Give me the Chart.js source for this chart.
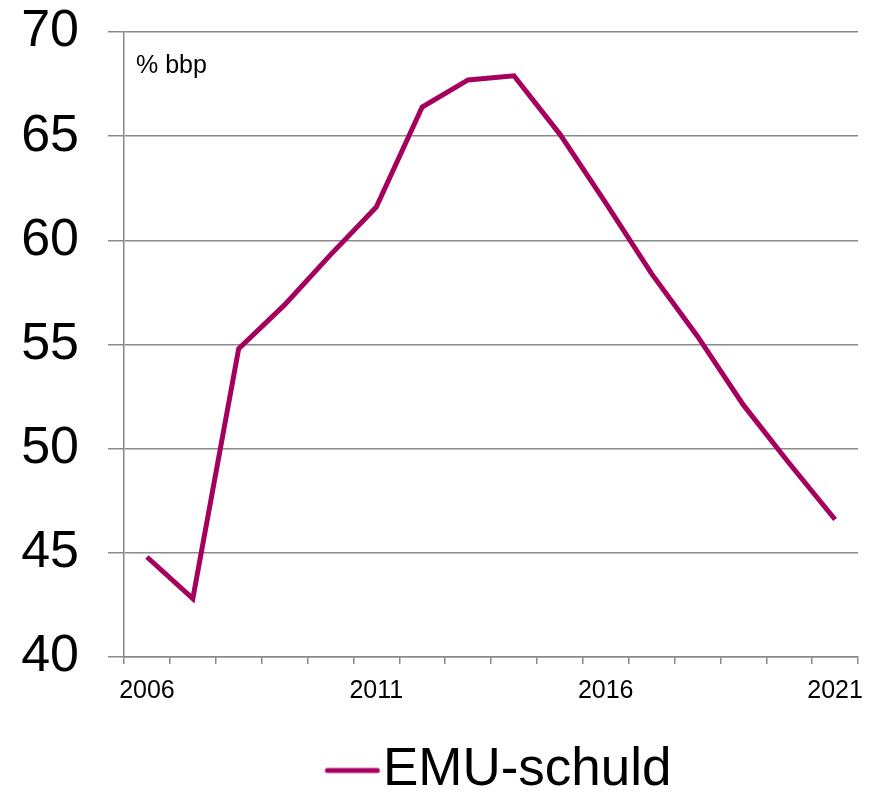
<!DOCTYPE html>
<html>
<head>
<meta charset="utf-8">
<script src="https://cdn.jsdelivr.net/npm/chart.js@4/dist/chart.umd.min.js"></script>
<style>
  html, body { margin: 0; padding: 0; background: #fff; }
</style>
</head>
<body>
<canvas id="emuChart" width="877" height="791"></canvas>
<script>
// Data
const years = ['2006', '2007', '2008', '2009', '2010', '2011', '2012', '2013',
               '2014', '2015', '2016', '2017', '2018', '2019', '2020', '2021'];
const emuDebt = [44.8, 42.8, 54.8, 56.9, 59.3, 61.6, 66.4, 67.7,
                 67.9, 65.1, 61.8, 58.4, 55.4, 52.1, 49.3, 46.6];
const labelledYears = ['2006', '2011', '2016', '2021'];
const yTickValues = [40, 45, 50, 55, 60, 65, 70];
const seriesName = 'EMU-schuld';
const unitText = '% bbp';

const LINE_COLOR = '#a5005e';
const GRID_COLOR = '#8a8a8a';
const FONT = '"Liberation Sans", Arial, sans-serif';

// legend marker: short thick line, drawn as an image (line sits in the right part
// of the image so it ends close to the legend text)
const markerShift = 19;
const marker = document.createElement('canvas');
marker.width = 56 + 2 * markerShift;
marker.height = 8;
const mctx = marker.getContext('2d');
mctx.strokeStyle = LINE_COLOR;
mctx.lineWidth = 5;
mctx.lineCap = 'round';
mctx.beginPath();
mctx.moveTo(2 * markerShift + 3, 4);
mctx.lineTo(2 * markerShift + 53, 4);
mctx.stroke();

// "% bbp" inside the plot, top left
const unitLabel = {
    id: 'unitLabel',
    afterDraw(chart) {
        const { ctx, chartArea } = chart;
        ctx.save();
        ctx.font = '25px ' + FONT;
        ctx.fillStyle = '#000';
        ctx.textBaseline = 'alphabetic';
        ctx.fillText(unitText, chartArea.left + 12, chartArea.top + 41);
        ctx.restore();
    }
};

const ctx = document.getElementById('emuChart').getContext('2d');
const chart = new Chart(ctx, {
    type: 'line',
    data: {
        labels: years,
        datasets: [{
            label: seriesName,
            data: emuDebt,
            borderColor: LINE_COLOR,
            backgroundColor: LINE_COLOR,
            borderWidth: 5,
            tension: 0,
            pointRadius: 0,
            fill: false
        }]
    },
    options: {
        responsive: false,
        animation: false,
        layout: {
            padding: { top: 32, right: 19, bottom: -16, left: 0 }
        },
        scales: {
            x: {
                offset: true,
                grid: {
                    offset: true,
                    drawOnChartArea: false,
                    drawTicks: true,
                    tickLength: 7,
                    color: GRID_COLOR,
                    lineWidth: 1.5
                },
                border: { display: true, color: GRID_COLOR, width: 1.5 },
                ticks: {
                    autoSkip: false,
                    maxRotation: 0,
                    padding: 12,
                    color: '#000',
                    font: { family: FONT, size: 25 },
                    callback: function (value) {
                        const label = this.getLabelForValue(value);
                        return labelledYears.includes(label) ? label : '';
                    }
                },
                afterFit(scale) {
                    scale.height = 87;
                    scale.paddingLeft = 0;
                    scale.paddingRight = 0;
                }
            },
            y: {
                min: yTickValues[0],
                max: yTickValues[yTickValues.length - 1],
                afterBuildTicks(scale) {
                    scale.ticks = yTickValues.map(v => ({ value: v }));
                },
                grid: {
                    color: GRID_COLOR,
                    lineWidth: 1.5,
                    drawTicks: true,
                    tickLength: 16
                },
                border: { display: true, color: GRID_COLOR, width: 1.5 },
                ticks: {
                    padding: 29,
                    color: '#000',
                    font: { family: FONT, size: 52 }
                },
                afterFit(scale) {
                    scale.width = 124;
                    scale.paddingTop = 0;
                    scale.paddingBottom = 0;
                }
            }
        },
        plugins: {
            legend: {
                display: true,
                position: 'bottom',
                fullSize: false,
                labels: {
                    usePointStyle: true,
                    pointStyle: marker,
                    pointStyleWidth: 46,
                    padding: 0,
                    color: '#000',
                    font: { family: FONT, size: 53 }
                }
            },
            tooltip: { enabled: false }
        }
    },
    plugins: [unitLabel]
});
</script>
</body>
</html>
